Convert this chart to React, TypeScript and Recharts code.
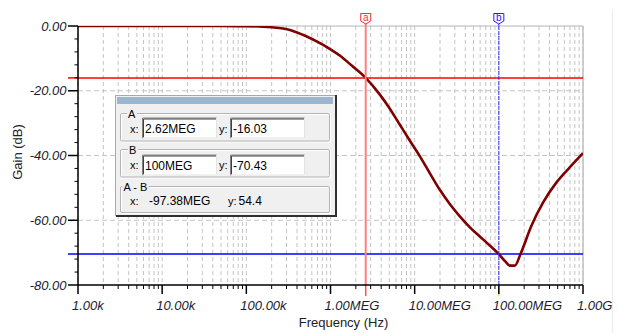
import { LineChart, Line, XAxis, YAxis, CartesianGrid, ReferenceLine } from "recharts";

// frequency response (Hz, dB)
const FREQ = [1e3, 1e4, 5e4, 1e5, 2e5, 3.3e5, 5e5, 7.5e5, 1e6, 1.3e6, 1.8e6, 2.62e6, 3.86e6, 5e6, 6.67e6, 8.7e6, 1.15e7, 1.5e7, 1.99e7, 2.6e7, 3.44e7, 4.5e7, 5.95e7, 7.8e7, 1e8, 1.2e8, 1.35e8, 1.55e8, 1.81e8, 2.44e8, 3.36e8, 4.84e8, 7e8, 1e9];
const GAIN = [0, 0, -0.01, -0.05, -0.4, -1.2, -3.0, -5.3, -7.2, -9.2, -12.3, -16.03, -21.2, -25.3, -30.5, -35.3, -40.2, -45.3, -50.6, -54.9, -58.8, -62.1, -65.0, -67.8, -70.43, -72.8, -74.0, -74.0, -70.4, -61.7, -54.5, -48.3, -43.6, -39.3];

const F_MIN = 1e3;
const F_MAX = 1e9;
const DECADES = [1e3, 1e4, 1e5, 1e6, 1e7, 1e8, 1e9];
const DECADE_LABELS = ["1.00k", "10.00k", "100.00k", "1.00MEG", "10.00MEG", "100.00MEG", "1.00G"];
const MULTS = [1, 2, 3, 4, 5, 6, 7, 8, 9];
const X_TICKS = DECADES.flatMap((d, i) => (i === DECADES.length - 1 ? [d] : MULTS.map((m) => m * d)));

const Y_TICKS = [0, -4, -8, -12, -16, -20, -24, -28, -32, -36, -40, -44, -48, -52, -56, -60, -64, -68, -72, -76, -80];
const Y_MAJOR = [0, -20, -40, -60, -80];
const Y_LABELS = ["0.00", "-20.00", "-40.00", "-60.00", "-80.00"];
const H_GRID = [-20, -40, -60];

const CURSOR_A = { x: 2.62e6, y: -16.03, xText: "2.62MEG", yText: "-16.03" };
const CURSOR_B = { x: 1e8, y: -70.43, xText: "100MEG", yText: "-70.43" };
const DIFF = { xText: "-97.38MEG", yText: "54.4" };

const data = FREQ.map((f, i) => ({ f, g: GAIN[i] }));

const FONT = '"Liberation Sans", Arial, sans-serif';
const TICK_COLOR = "#1c1c30";

const hSeg = (y: number) => [
  { x: F_MIN, y },
  { x: F_MAX, y },
];

const XTick = (p: any) => {
  const v = p.payload.value;
  const i = DECADES.findIndex((d) => Math.abs(d - v) / d < 1e-6);
  const major = i >= 0;
  return (
    <g>
      <line x1={p.x} x2={p.x} y1={p.y} y2={p.y + (major ? 9 : 4)} stroke="#000" strokeWidth={major ? 1.5 : 1} />
      {major && (
        <text x={p.x - 6} y={p.y + 25} fontSize={13} fontStyle="italic" fontFamily={FONT} fill={TICK_COLOR}>
          {DECADE_LABELS[i]}
        </text>
      )}
    </g>
  );
};

const YTick = (p: any) => {
  const v = p.payload.value;
  const i = Y_MAJOR.indexOf(v);
  const major = i >= 0;
  return (
    <g>
      <line x1={p.x - (major ? 10 : 3.5)} x2={p.x} y1={p.y} y2={p.y} stroke="#000" strokeWidth={major ? 1.5 : 1} />
      {major && (
        <text x={p.x - 11.5} y={p.y + 4.5} textAnchor="end" fontSize={13} fontStyle="italic" fontFamily={FONT} fill={TICK_COLOR}>
          {Y_LABELS[i]}
        </text>
      )}
    </g>
  );
};

// cursor flag on top, short tail below the axis
const vCursorDecor = (letter: string, color: string, lineColor: string, tailColor: string) => (p: any) => {
  const vb = p.viewBox;
  const cx = vb.x;
  const top = vb.y;
  const bottom = vb.y + vb.height;
  return (
    <g>
      <line x1={cx} x2={cx} y1={top - 2} y2={top} stroke={lineColor} strokeWidth={letter === "a" ? 2 : 1} />
      <line x1={cx} x2={cx} y1={bottom} y2={bottom + 11} stroke={tailColor} strokeWidth={1.5} />
      <path
        d={`M${cx - 5} ${top - 12.5} H${cx + 5} V${top - 5} L${cx} ${top - 2} L${cx - 5} ${top - 5} Z`}
        fill="#fff"
        stroke={color}
        strokeWidth={1}
      />
      <text x={cx} y={top - 5} textAnchor="middle" fontSize={10} fontFamily={FONT} fill={color}>
        {letter}
      </text>
    </g>
  );
};

const hCursorDecor = (color: string) => (p: any) => {
  const vb = p.viewBox;
  return <line x1={vb.x - 10} x2={vb.x} y1={vb.y} y2={vb.y} stroke={color} strokeWidth={1.5} />;
};

const Field = ({ x, y, text }: { x: number; y: number; text: string }) => (
  <g>
    <rect x={x} y={y} width={75} height={21} fill="#fff" />
    <path d={`M${x + 0.5} ${y + 21} V${y + 0.5} H${x + 75}`} stroke="#808080" fill="none" />
    <path d={`M${x + 1.5} ${y + 20} V${y + 1.5} H${x + 74}`} stroke="#404040" fill="none" />
    <path d={`M${x + 0.5} ${y + 20.5} H${x + 74.5} V${y}`} stroke="#e4e4e4" fill="none" />
    <text x={x + 3} y={y + 15} fontSize={12} fontFamily={FONT} fill="#000">
      {text}
    </text>
  </g>
);

const Group = ({ y, h, label, lx, lw }: { y: number; h: number; label: string; lx: number; lw: number }) => (
  <g>
    <rect x={121.5} y={y + 1} width={209} height={h} fill="none" stroke="#fff" />
    <rect x={120.5} y={y} width={209} height={h} fill="none" stroke="#b4b4b4" rx={1.5} />
    <rect x={lx - 1} y={y - 5} width={lw} height={9} fill="#f0f0f0" />
    <text x={lx} y={y + 4} fontSize={11} fontFamily={FONT} fill="#000">
      {label}
    </text>
  </g>
);

const CursorPanel = () => (
  <svg width={619} height={333} style={{ position: "absolute", left: 0, top: 0, pointerEvents: "none" }}>
    <rect x={115} y={95} width={222} height={122} fill="#f0f0f0" />
    <path d="M115.5 216 V95.5 H336" stroke="#a8a8a8" fill="none" />
    <path d="M116 216 H336 V95" stroke="#303030" strokeWidth={2} fill="none" />
    <rect x={117} y={97} width={216} height={7} fill="#9db6cf" />

    <Group y={113.5} h={27.5} label="A" lx={128} lw={10} />
    <text x={130} y={132.5} fontSize={11} fontFamily={FONT}>x:</text>
    <Field x={142} y={117.5} text={CURSOR_A.xText} />
    <text x={219} y={132.5} fontSize={11} fontFamily={FONT}>y:</text>
    <Field x={230} y={117.5} text={CURSOR_A.yText} />

    <Group y={149.5} h={27.5} label="B" lx={129} lw={10} />
    <text x={130} y={169} fontSize={11} fontFamily={FONT}>x:</text>
    <Field x={142} y={154.5} text={CURSOR_B.xText} />
    <text x={219} y={169} fontSize={11} fontFamily={FONT}>y:</text>
    <Field x={230} y={154.5} text={CURSOR_B.yText} />

    <Group y={186.5} h={26} label="A - B" lx={123.5} lw={26} />
    <text x={130} y={205} fontSize={11} fontFamily={FONT}>x:</text>
    <text x={149} y={205} fontSize={12} fontFamily={FONT}>{DIFF.xText}</text>
    <text x={228} y={205} fontSize={11} fontFamily={FONT}>y:</text>
    <text x={238.5} y={205} fontSize={12} fontFamily={FONT}>{DIFF.yText}</text>

    <line x1={612.5} x2={612.5} y1={10} y2={333} stroke="#ececec" />
  </svg>
);

export default function App() {
  return (
    <div style={{ position: "absolute", left: 0, top: 0, width: 619, height: 333, background: "#fff", fontFamily: FONT }}>
      <LineChart width={619} height={333} data={data} margin={{ top: 26, right: 36, bottom: 0, left: 0 }}>
        <CartesianGrid horizontal={false} stroke="#c4c4c4" strokeDasharray="4 3" />
        {H_GRID.map((v) => (
          <ReferenceLine key={v} segment={hSeg(v)} stroke="#c4c4c4" strokeDasharray="5 3" />
        ))}
        <ReferenceLine segment={hSeg(0)} stroke="#b4b4b4" />
        <ReferenceLine x={F_MAX} stroke="#c0c0c0" strokeWidth={1.5} />
        <XAxis
          dataKey="f"
          type="number"
          scale="log"
          domain={[F_MIN, F_MAX]}
          allowDataOverflow
          ticks={X_TICKS}
          interval={0}
          tickSize={0}
          tickMargin={0}
          tickLine={false}
          tick={XTick}
          axisLine={{ stroke: "#000", strokeWidth: 1.5 }}
          height={48}
          label={(p: any) => (
            <text
              x={p.viewBox.x + p.viewBox.width / 2 + 13}
              y={p.viewBox.y + 42}
              textAnchor="middle"
              fontSize={13}
              fontFamily={FONT}
              fill="#222"
            >
              Frequency (Hz)
            </text>
          )}
        />
        <YAxis
          type="number"
          domain={[-80, 0]}
          allowDataOverflow
          ticks={Y_TICKS}
          interval={0}
          tickSize={0}
          tickMargin={0}
          tickLine={false}
          tick={YTick}
          axisLine={{ stroke: "#000", strokeWidth: 1.5 }}
          width={78}
          label={(p: any) => {
            const cy = p.viewBox.y + p.viewBox.height / 2 - 3.5;
            return (
              <text x={21.5} y={cy} transform={`rotate(-90, 21.5, ${cy})`} textAnchor="middle" fontSize={13} fontFamily={FONT} fill="#222">
                Gain (dB)
              </text>
            );
          }}
        />
        <ReferenceLine segment={hSeg(CURSOR_A.y)} stroke="#ff0000" strokeWidth={1.5} label={hCursorDecor("#ff0000")} />
        <ReferenceLine segment={hSeg(CURSOR_B.y)} stroke="#0000ff" strokeWidth={1.5} label={hCursorDecor("#0000ff")} />
        <Line type="monotone" dataKey="g" stroke="#800000" strokeWidth={2.6} dot={false} isAnimationActive={false} />
        <ReferenceLine
          x={CURSOR_A.x}
          stroke="#ff7f7f"
          strokeWidth={2}
          label={vCursorDecor("a", "#ff3030", "#ff7f7f", "#ff5050")}
        />
        <ReferenceLine
          x={CURSOR_B.x}
          stroke="#3333ff"
          strokeWidth={1}
          strokeDasharray="4 1"
          label={vCursorDecor("b", "#2020ff", "#3333ff", "#f0f000")}
        />
      </LineChart>
      <CursorPanel />
    </div>
  );
}
